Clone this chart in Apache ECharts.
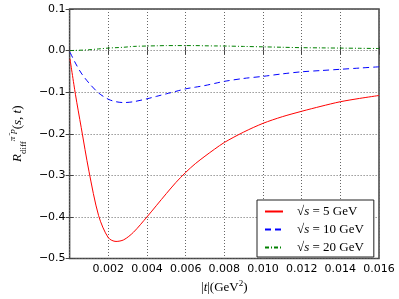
<!DOCTYPE html>
<html><head><meta charset="utf-8">
<script src="https://cdn.jsdelivr.net/npm/echarts@6/dist/echarts.min.js"></script>
<style>html,body{margin:0;padding:0;background:#fff}#c{width:399px;height:299px}</style>
</head><body><div id="c"></div>
<script>
var tValues = [0.00002, 0.0003, 0.0006, 0.001, 0.0015, 0.002, 0.0024, 0.0028, 0.0033, 0.004, 0.0045, 0.005, 0.0055, 0.006, 0.0065, 0.007, 0.0075, 0.008, 0.009, 0.010, 0.011, 0.012, 0.013, 0.014, 0.015, 0.016];
var r5GeV  = [-0.02, -0.105, -0.185, -0.29, -0.397, -0.450, -0.459, -0.455, -0.437, -0.400, -0.372, -0.344, -0.317, -0.293, -0.272, -0.254, -0.237, -0.221, -0.196, -0.175, -0.159, -0.146, -0.134, -0.123, -0.115, -0.108];
var r10GeV = [-0.004, -0.030, -0.054, -0.078, -0.102, -0.117, -0.123, -0.125, -0.123, -0.116, -0.110, -0.104, -0.098, -0.092, -0.088, -0.084, -0.079, -0.074, -0.067, -0.062, -0.056, -0.051, -0.048, -0.045, -0.042, -0.039];
var r20GeV = [0.0, 0.0005, 0.001, 0.002, 0.004, 0.006, 0.007, 0.008, 0.010, 0.011, 0.0115, 0.012, 0.012, 0.012, 0.012, 0.0115, 0.0112, 0.011, 0.010, 0.009, 0.008, 0.007, 0.0065, 0.006, 0.0055, 0.005];
var seriesNames = ['5', '10', '20'];
var xTickLabels = ['0.002','0.004','0.006','0.008','0.010','0.012','0.014','0.016'];
var yTickLabels = ['\u22120.5','\u22120.4','\u22120.3','\u22120.2','\u22120.1','0.0','0.1'];

function zip(a, b) { return a.map(function (v, i) { return [v, b[i]]; }); }
var chart = echarts.init(document.getElementById('c'), null, {renderer: 'canvas'});
var frame = '#444';
var gridLine = {show: true, lineStyle: {color: '#666', type: [1, 2], width: 1}};
var serif = 'Liberation Serif';
function fmtY(v) { var s = (Math.round(v * 10) / 10).toFixed(1); return s.replace('-', '\u2212'); }
function fmtX(v) { if (Math.abs(v) < 1e-9) return ''; return v.toFixed(3); }
var legendRich = {
  a: {fontFamily: serif, fontSize: 13, color: '#000', padding: [0, 0, 0, 9]},
  i: {fontFamily: serif, fontSize: 13, fontStyle: 'italic', color: '#000'},
  b: {fontFamily: serif, fontSize: 13, color: '#000'}
};
var option = {
  animation: false,
  backgroundColor: '#fff',
  grid: {left: 55, right: 20, top: 9, bottom: 37, show: true, borderColor: frame, borderWidth: 1.5, backgroundColor: 'transparent'},
  xAxis: [{
    type: 'value', min: 0, max: 0.016, interval: 0.002, position: 'bottom',
    axisLine: {show: false},
    axisTick: {show: true, inside: true, length: 4, lineStyle: {color: frame}},
    axisLabel: {fontFamily: 'DejaVu Sans', fontSize: 11, color: '#000', margin: 5, formatter: fmtX},
    splitLine: gridLine,
    name: '{b||}{i|t}{b||(GeV}{s|2}{b|)}', nameLocation: 'middle', nameGap: 21,
    nameTextStyle: {rich: {
      b: {fontFamily: serif, fontSize: 13, color: '#000'},
      i: {fontFamily: serif, fontSize: 13, fontStyle: 'italic', color: '#000'},
      s: {fontFamily: serif, fontSize: 9, color: '#000', verticalAlign: 'top', lineHeight: 16}
    }}
  }, {
    type: 'value', min: 0, max: 0.016, interval: 0.002, position: 'top',
    axisLine: {show: false}, axisLabel: {show: false}, splitLine: {show: false},
    axisTick: {show: true, inside: true, length: 4, lineStyle: {color: frame}}
  }],
  yAxis: [{
    type: 'value', min: -0.5, max: 0.1, interval: 0.1, position: 'left',
    axisLine: {show: false},
    axisTick: {show: true, inside: true, length: 4, lineStyle: {color: frame}},
    axisLabel: {fontFamily: 'DejaVu Sans', fontSize: 11, color: '#000', margin: 4, formatter: fmtY},
    splitLine: gridLine,
    name: '{i|R}{sub|diff}{sup|\u03c0\u207bp}{b|(}{i|s}{b|, }{i|t}{b|)}', nameLocation: 'middle', nameGap: 31, nameRotate: 90,
    nameTextStyle: {rich: {
      b: {fontFamily: serif, fontSize: 13, color: '#000', lineHeight: 20},
      i: {fontFamily: serif, fontSize: 13, fontStyle: 'italic', color: '#000', lineHeight: 20},
      sub: {fontFamily: serif, fontSize: 9, color: '#000', verticalAlign: 'bottom', lineHeight: 20},
      sup: {fontFamily: serif, fontSize: 9, fontStyle: 'italic', color: '#000', verticalAlign: 'top', lineHeight: 20}
    }}
  }, {
    type: 'value', min: -0.5, max: 0.1, interval: 0.1, position: 'right',
    axisLine: {show: false}, axisLabel: {show: false}, splitLine: {show: false},
    axisTick: {show: true, inside: true, length: 4, lineStyle: {color: frame}}
  }],
  legend: {
    orient: 'vertical', left: 257, top: 200,
    backgroundColor: '#fff', borderColor: '#222', borderWidth: 1, borderRadius: 0,
    padding: [5, 10, 3, 7], itemGap: 5, itemWidth: 18, itemHeight: 12,
    itemStyle: {opacity: 0},
    formatter: function (name) { return '{a|\u221a}{i|s}{b| = ' + name + ' GeV}'; },
    textStyle: {rich: legendRich},
    data: seriesNames
  },
  series: [
    {name: seriesNames[0], type: 'line', data: zip(tValues, r5GeV), smooth: 0.3, symbol: 'none', lineStyle: {color: '#ff0000', width: 1}, itemStyle: {color: '#ff0000'}},
    {name: seriesNames[1], type: 'line', data: zip(tValues, r10GeV), smooth: 0.3, symbol: 'none', lineStyle: {color: '#0000ff', width: 1, type: [6, 4]}, itemStyle: {color: '#0000ff'}},
    {name: seriesNames[2], type: 'line', data: zip(tValues, r20GeV), smooth: 0.3, symbol: 'none', lineStyle: {color: '#008000', width: 1, type: [4, 2, 1, 2]}, itemStyle: {color: '#008000'}}
  ]
};
chart.setOption(option);
</script></body></html>
